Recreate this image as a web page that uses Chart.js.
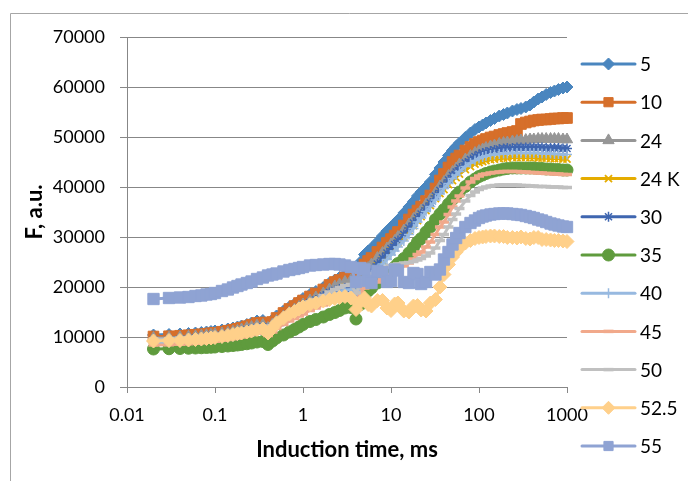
<!DOCTYPE html>
<html>
<head>
<meta charset="utf-8">
<script src="https://cdn.jsdelivr.net/npm/chart.js@4.4.0/dist/chart.umd.min.js"></script>
<style>
  html, body { margin: 0; padding: 0; background: #fff; }
  canvas { display: block; }
</style>
</head>
<body>
<canvas id="ojip" width="688" height="481"></canvas>
<script>
/* Chlorophyll fluorescence induction (OJIP) curves at several temperatures,
   log time axis, Excel-like styling with legend on the right. */

const TIME_MS = [0.02, 0.03, 0.04, 0.05, 0.06, 0.07, 0.08, 0.09, 0.1, 0.12,
  0.14, 0.16, 0.18, 0.2, 0.23, 0.26, 0.3, 0.35, 0.4, 0.45,
  0.5, 0.6, 0.7, 0.8, 0.9, 1, 1.2, 1.4, 1.7, 2,
  2.3, 2.6, 3, 3.5, 4, 4.5, 5, 5.5, 6, 7,
  8, 9, 10, 11, 12, 14, 16, 18, 20, 22,
  25, 28, 32, 36, 40, 45, 50, 55, 60, 70,
  80, 90, 100, 110, 120, 135, 150, 170, 190, 210,
  240, 270, 300, 340, 380, 420, 470, 520, 580, 650,
  720, 800, 900, 1000];

const SERIES_LABELS = ["5", "10", "24", "24 K", "30", "35", "40", "45", "50", "52.5", "55"];

const F_5 = [10400, 10500, 10600, 10700, 10800, 10900, 11000, 11100, 11200, 11400,
  11600, 11800, 12000, 12200, 12500, 12800, 13200, 13300, 12600, 13400,
  14200, 15200, 16000, 16600, 17200, 17700, 18500, 19100, 19900, 20800,
  21400, 21900, 22500, 22800, 20000, 25000, 26500, 27200, 27800, 29000,
  30200, 31200, 32000, 32700, 33400, 34800, 36000, 37100, 38200, 39000,
  40000, 41000, 42500, 43800, 45000, 46300, 47300, 48100, 48800, 49900,
  50800, 51500, 52000, 52400, 52800, 53300, 53700, 54200, 54500, 54800,
  55200, 55500, 55700, 56000, 56400, 57000, 57600, 58000, 58500, 58900,
  59200, 59500, 59800, 60000];
const F_10 = [10100, 10150, 10250, 10350, 10450, 10550, 10650, 10750, 10850, 11050,
  11250, 11450, 11650, 11850, 12150, 12450, 12800, 12900, 12300, 13000,
  13800, 14800, 15600, 16200, 16800, 17300, 18100, 18700, 19500, 20400,
  21000, 21400, 21900, 22300, 19800, 23300, 24500, 25200, 25800, 27000,
  27900, 28800, 29600, 30300, 31000, 32300, 33500, 34500, 35300, 36100,
  37200, 38300, 39700, 41300, 42600, 43900, 45000, 45700, 46300, 47300,
  48000, 48600, 49000, 49300, 49600, 49900, 50100, 50400, 50600, 50800,
  51000, 51200, 52600, 52900, 53100, 53300, 53400, 53500, 53500, 53600,
  53700, 53700, 53800, 53800];
const F_24 = [9800, 9850, 9950, 10050, 10150, 10250, 10350, 10450, 10550, 10700,
  10850, 11050, 11250, 11500, 11800, 12000, 12300, 12400, 11800, 12500,
  13200, 14100, 14900, 15500, 16000, 16500, 17300, 17900, 18700, 19500,
  20100, 20500, 21000, 21300, 19000, 21800, 23000, 23800, 24500, 25800,
  26800, 27700, 28500, 29200, 30000, 31300, 32500, 33600, 34500, 35300,
  36500, 37500, 38800, 40100, 41000, 42200, 43000, 43700, 44500, 45500,
  46200, 46800, 47200, 47500, 47800, 48100, 48300, 48600, 48800, 48900,
  49100, 49200, 49300, 49400, 49500, 49500, 49600, 49600, 49600, 49600,
  49600, 49600, 49500, 49500];
const F_24K = [9200, 9250, 9350, 9450, 9550, 9650, 9750, 9850, 9950, 10150,
  10300, 10500, 10700, 10900, 11200, 11400, 11700, 11800, 11200, 11900,
  12600, 13500, 14300, 14800, 15300, 15800, 16600, 17100, 17900, 18600,
  19100, 19500, 19900, 20000, 17800, 20300, 21500, 22300, 23000, 24200,
  25300, 26300, 27200, 28000, 28800, 30000, 31300, 32300, 33300, 34100,
  35300, 36300, 37700, 38700, 39500, 40500, 41300, 41900, 42600, 43500,
  44100, 44600, 44900, 45100, 45300, 45500, 45600, 45700, 45800, 45800,
  45900, 45900, 45900, 45900, 45900, 45900, 45800, 45800, 45800, 45700,
  45700, 45700, 45600, 45600];
const F_30 = [9400, 9450, 9550, 9650, 9750, 9850, 9950, 10050, 10150, 10350,
  10500, 10700, 10900, 11100, 11400, 11600, 11900, 12000, 11400, 12100,
  12900, 13800, 14600, 15100, 15600, 16100, 16900, 17400, 18200, 18900,
  19300, 19600, 19800, 19600, 16200, 20200, 21500, 22400, 23300, 24600,
  25800, 26800, 27700, 28500, 29300, 30500, 31800, 32800, 33800, 34600,
  35800, 36800, 38200, 39300, 40300, 41400, 42300, 43000, 43800, 44800,
  45500, 46100, 46500, 46800, 47000, 47200, 47400, 47600, 47700, 47800,
  47800, 47900, 47900, 47900, 47900, 47900, 47900, 47900, 47800, 47800,
  47800, 47800, 47700, 47700];
const F_35 = [7600, 7650, 7700, 7750, 7800, 7850, 7900, 7950, 8000, 8100,
  8200, 8300, 8400, 8500, 8650, 8800, 9000, 9100, 8500, 9200,
  9800, 10400, 11000, 11500, 12000, 12500, 13100, 13500, 14000, 14500,
  14900, 15300, 15800, 15900, 13600, 16500, 18500, 19200, 19800, 20800,
  21800, 22600, 23300, 24000, 24700, 25700, 26800, 27900, 29000, 29700,
  31000, 32000, 33500, 34600, 35500, 36600, 37500, 38300, 39000, 40100,
  41000, 41600, 42100, 42400, 42700, 43000, 43200, 43400, 43600, 43700,
  43800, 43800, 43800, 43800, 43800, 43800, 43700, 43700, 43600, 43600,
  43500, 43500, 43400, 43400];
const F_40 = [8800, 8850, 8950, 9050, 9150, 9250, 9350, 9450, 9550, 9750,
  9900, 10100, 10300, 10500, 10800, 11000, 11300, 11400, 10800, 11500,
  12200, 13100, 13800, 14400, 14900, 15300, 16100, 16600, 17400, 18100,
  18600, 18900, 19400, 19500, 17200, 19800, 21000, 21700, 22400, 23500,
  24600, 25500, 26400, 27200, 28000, 29200, 30500, 31700, 33000, 33800,
  35100, 36100, 37400, 38600, 39700, 40700, 41700, 42400, 43100, 44100,
  44800, 45300, 45700, 46000, 46200, 46400, 46500, 46600, 46700, 46700,
  46800, 46800, 46800, 46800, 46800, 46800, 46800, 46700, 46700, 46700,
  46600, 46600, 46500, 46500];
const F_45 = [8400, 8450, 8550, 8650, 8750, 8850, 8950, 9050, 9150, 9350,
  9500, 9650, 9800, 10000, 10250, 10500, 10800, 10900, 10300, 11000,
  11700, 12500, 13200, 13700, 14200, 14600, 15300, 15800, 16400, 17000,
  17500, 17900, 18200, 18300, 17000, 18800, 19800, 20100, 20500, 21000,
  21500, 22000, 22500, 23000, 23500, 24200, 24800, 25600, 26500, 27000,
  28000, 29000, 30500, 32000, 33000, 34500, 36000, 37200, 38200, 39800,
  41000, 41700, 42200, 42500, 42600, 42800, 42900, 43000, 43100, 43100,
  43100, 43100, 43000, 43000, 42900, 42900, 42800, 42800, 42700, 42700,
  42600, 42600, 42500, 42500];
const F_50 = [9600, 9650, 9750, 9850, 9950, 10050, 10150, 10250, 10350, 10550,
  10700, 10900, 11100, 11300, 11600, 11800, 12100, 12200, 11600, 12300,
  13000, 13900, 14700, 15200, 15700, 16200, 17000, 17500, 18300, 19000,
  19500, 19900, 20300, 20500, 18800, 20600, 21800, 22300, 22700, 23300,
  23700, 24000, 24300, 24500, 24600, 24800, 24900, 25100, 25400, 25700,
  26200, 26800, 27800, 29300, 30500, 32000, 33500, 34600, 35700, 37200,
  38300, 39000, 39500, 39800, 40000, 40200, 40300, 40400, 40400, 40400,
  40400, 40400, 40300, 40300, 40200, 40200, 40100, 40100, 40100, 40000,
  40000, 40000, 39900, 39900];
const F_52_5 = [9200, 9300, 9300, 9400, 9500, 9600, 9700, 9800, 9900, 10100,
  10300, 10500, 10700, 10800, 11000, 11200, 11500, 11600, 10800, 11800,
  12800, 13800, 14600, 15100, 15600, 16000, 16500, 16800, 17200, 17500,
  17700, 17900, 18100, 17800, 15500, 17000, 17800, 16500, 16200, 17300,
  17300, 15800, 15300, 16600, 16800, 15200, 15000, 16200, 16300, 15400,
  15200, 16800, 17500, 20000, 22500, 24500, 26000, 27000, 27800, 28800,
  29300, 29700, 29900, 30000, 30100, 30200, 30200, 30100, 30100, 29900,
  29900, 29800, 30000, 29700, 29600, 29900, 29900, 29500, 29500, 29400,
  29300, 29300, 29200, 29100];
const F_55 = [17600, 17800, 17900, 18000, 18200, 18300, 18500, 18600, 18800, 19200,
  19500, 19900, 20200, 20500, 20800, 21100, 21600, 21900, 22300, 22500,
  22700, 23100, 23400, 23600, 23800, 24000, 24300, 24400, 24500, 24600,
  24600, 24500, 24300, 24000, 21000, 23800, 23500, 21200, 20800, 23200,
  23000, 21000, 21200, 23500, 23300, 21000, 20800, 22800, 22600, 20600,
  21000, 23000, 22500, 23500, 25500, 27000, 28500, 29800, 30800, 32000,
  32800, 33300, 33800, 34100, 34300, 34500, 34600, 34700, 34700, 34700,
  34600, 34500, 34400, 34200, 34000, 33800, 33500, 33300, 33000, 32700,
  32500, 32300, 32100, 32000];

const X_TICKS = [0.01, 0.1, 1, 10, 100, 1000];
const X_TICK_LABELS = ["0.01", "0.1", "1", "10", "100", "1000"];
const Y_TICKS = [0, 10000, 20000, 30000, 40000, 50000, 60000, 70000];

const SERIES_VALUES = [F_5, F_10, F_24, F_24K, F_30, F_35, F_40, F_45, F_50, F_52_5, F_55];

const COLORS = ["#4a86bf", "#d66f2a", "#969696", "#e5ac00", "#3f66b0", "#5f9b3d",
  "#97b9e0", "#f1a98b", "#c0c0c0", "#ffd08a", "#8fa3d3"];
const MARKERS = ["rectRot", "rect", "triangle", "crossRot", "star", "circle",
  "cross", "line", "line", "rectRot", "rect"];
const MARKER_RADIUS = [6, 7.5, 6.5, 5, 5, 6, 5, 5, 5, 7, 8];
const MARKER_LINE = [1, 1, 1, 1.8, 1.5, 1, 1.5, 3.5, 3.5, 1, 1];

const FONT = "Lato";
const GRID = "#878787";

const frameAndLegend = {
  id: "frameAndLegend",
  beforeDraw(chart) {
    const ctx = chart.ctx;
    ctx.save();
    ctx.fillStyle = "#fff";
    ctx.fillRect(0, 0, chart.width, chart.height);
    ctx.strokeStyle = "#a6a6a6";
    ctx.lineWidth = 1;
    ctx.beginPath();
    ctx.moveTo(10.5, chart.height);
    ctx.lineTo(10.5, 13.5);
    ctx.lineTo(chart.width, 13.5);
    ctx.stroke();
    ctx.restore();
  },
  afterDraw(chart) {
    const ctx = chart.ctx;
    ctx.save();
    chart.data.datasets.forEach((ds, i) => {
      const y = 64 + i * 38.2;
      ctx.strokeStyle = ds.borderColor;
      ctx.lineWidth = 3;
      ctx.lineCap = "round";
      ctx.beginPath();
      ctx.moveTo(582, y);
      ctx.lineTo(635, y);
      ctx.stroke();
      ctx.lineCap = "butt";
      ctx.fillStyle = ds.pointBackgroundColor;
      ctx.strokeStyle = ds.pointBorderColor;
      ctx.lineWidth = ds.pointBorderWidth;
      // legend markers a little smaller than the plotted ones
      Chart.helpers.drawPoint(ctx, {
        pointStyle: ds.pointStyle, radius: Math.min(ds.pointRadius, 6.5),
        borderWidth: ds.pointBorderWidth, rotation: 0
      }, 608.5, y);
      ctx.fillStyle = "#000";
      ctx.font = "19px " + FONT;
      ctx.textBaseline = "middle";
      ctx.textAlign = "left";
      ctx.fillText(ds.label, 640, y + 1);
    });
    ctx.restore();
  }
};

function buildDatasets() {
  return SERIES_LABELS.map((label, i) => ({
    label: label,
    data: TIME_MS.map((t, k) => ({ x: t, y: SERIES_VALUES[i][k] })),
    borderColor: COLORS[i],
    backgroundColor: COLORS[i],
    pointBackgroundColor: COLORS[i],
    pointBorderColor: COLORS[i],
    borderWidth: 3,
    pointStyle: MARKERS[i],
    pointRadius: MARKER_RADIUS[i],
    pointBorderWidth: MARKER_LINE[i],
    order: SERIES_LABELS.length - 1 - i,
    clip: false
  }));
}

function renderChart() {
  new Chart(document.getElementById("ojip"), {
    type: "line",
    data: { datasets: buildDatasets() },
    options: {
      responsive: false,
      animation: false,
      devicePixelRatio: 1,
      layout: { padding: { top: 37, right: 121, left: 0, bottom: 0 } },
      plugins: { legend: { display: false }, tooltip: { enabled: false } },
      scales: {
        x: {
          type: "logarithmic",
          min: 0.01, max: 1000,
          afterBuildTicks: s => { s.ticks = X_TICKS.map(v => ({ value: v })); },
          afterFit: s => { s.height = 94; },
          ticks: {
            callback: (v, i) => X_TICK_LABELS[i],
            color: "#000", font: { family: FONT, size: 18 },
            padding: 11, maxRotation: 0, autoSkip: false
          },
          grid: { drawOnChartArea: false, drawTicks: true, tickLength: 6, color: GRID },
          border: { color: GRID },
          title: {
            display: true, text: "Induction time, ms", color: "#000",
            font: { family: FONT, size: 22, weight: "bold" },
            padding: { top: 0, bottom: 18 }
          }
        },
        y: {
          min: 0, max: 70000,
          afterBuildTicks: s => { s.ticks = Y_TICKS.map(v => ({ value: v })); },
          afterFit: s => { s.width = 127; },
          ticks: { callback: v => String(v), color: "#000", font: { family: FONT, size: 18 }, padding: 15 },
          grid: { color: GRID, tickLength: 7 },
          border: { color: GRID },
          title: {
            display: true, text: "F, a.u.", color: "#000",
            font: { family: FONT, size: 22, weight: "bold" },
            padding: { top: 22, bottom: 0 }
          }
        }
      }
    },
    plugins: [frameAndLegend]
  });
}

Promise.all([
  document.fonts.load("18px " + FONT),
  document.fonts.load("bold 22px " + FONT)
]).then(renderChart, renderChart);
</script>
</body>
</html>
